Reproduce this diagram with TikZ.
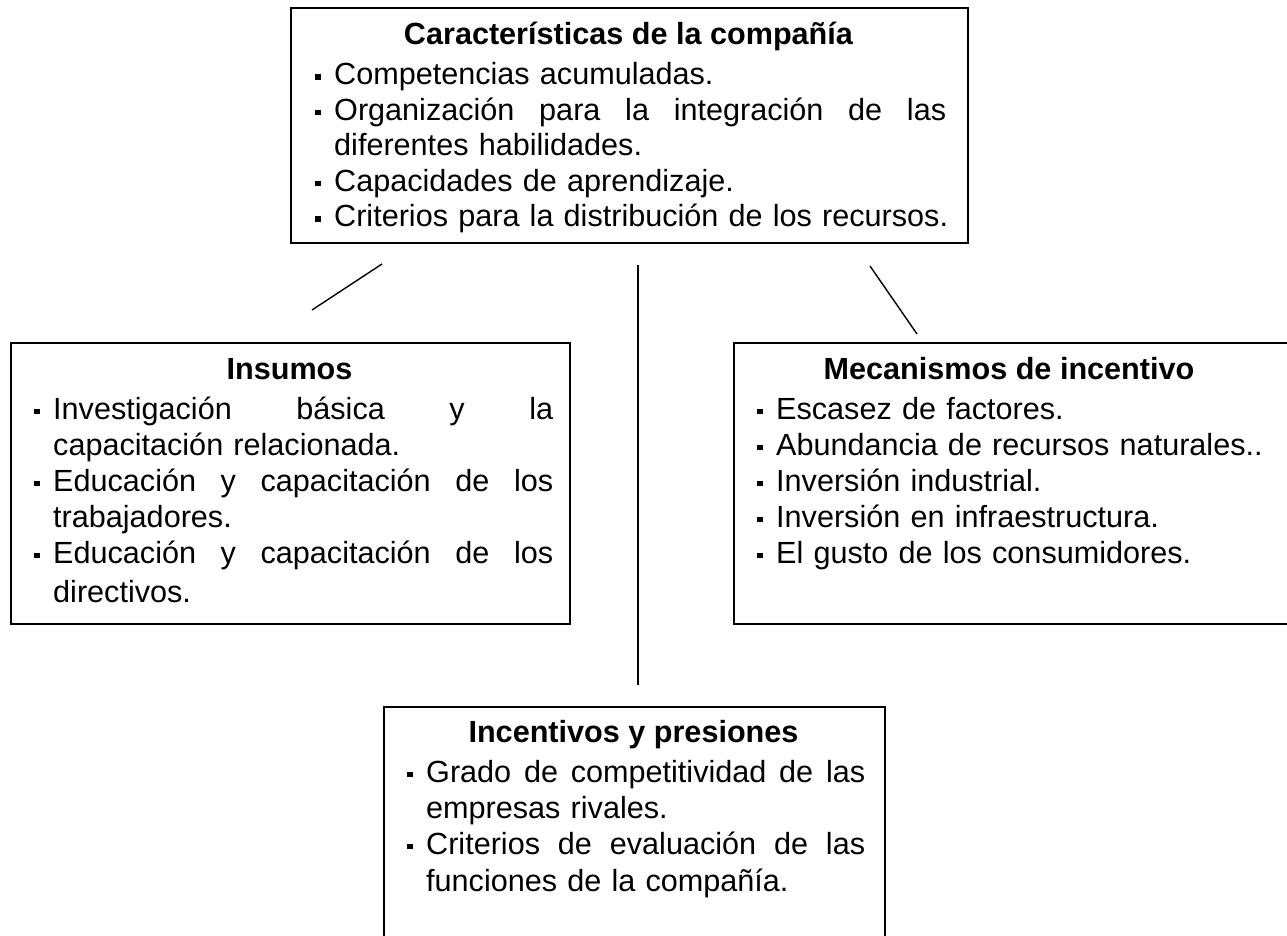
\documentclass[tikz,border=0pt]{standalone}
\usepackage{fontspec}
\setmainfont{Liberation Sans}
\newlength\bulind
\setlength\bulind{19pt}
\newcommand\sqb{\rule[5pt]{5.5pt}{5.5pt}}
\newcommand\itm{\makebox[\bulind][l]{\sqb}}
\newcommand\cnt{\hspace*{\bulind}}
\newcommand\js[2]{\makebox[#1][s]{#2}}
\newcommand\hf{\hfill}
\begin{document}
\begin{tikzpicture}[x=1pt,y=-1pt,
  box/.style={draw=black,line width=1.6pt,inner sep=0pt,anchor=north west},
  txt/.style={anchor=base west,inner sep=0pt,align=left,text width=700pt,font=\fontsize{30.6}{36}\selectfont},
  ttl/.style={anchor=base,inner sep=0pt,font=\fontsize{30.6}{36}\selectfont\bfseries},
  conn/.style={line width=1.4pt}]
\useasboundingbox (0,0) rectangle (1287,936);
% boxes
\node[box,minimum width=677pt,minimum height=235pt] (caj1) at (290,7) {};
\node[box,minimum width=559pt,minimum height=281pt] (caj2) at (10,342) {};
\node[box,minimum width=560pt,minimum height=281pt] (caj3) at (733,342) {};
\node[box,minimum width=501pt,minimum height=245pt] (caj4) at (383,706) {};
% titles
\node[ttl] (t1) at (628.5,45) {Características de la compañía};
\node[ttl] (t2) at (289.5,379) {Insumos};
\node[ttl] (t3) at (1009,379) {Mecanismos de incentivo};
\node[ttl] (t4) at (633.5,742) {Incentivos y presiones};
% items
\node[txt,font=\fontsize{30.6}{35.5}\selectfont] (i1) at (315,85) {\itm Competencias acumuladas.\\
\itm\js{612pt}{Organización\hf{} para\hf{} la\hf{} integración\hf{} de\hf{} las}\\
\cnt diferentes habilidades.\\
\itm Capacidades de aprendizaje.\\
\itm Criterios para la distribución de los recursos.};
\node[txt] (i2) at (34,419) {\itm\js{500pt}{Investigación\hf{} básica\hf{} y\hf{} la}\\
\cnt capacitación relacionada.\\
\itm\js{500pt}{Educación\hf{} y\hf{} capacitación\hf{} de\hf{} los}\\
\cnt trabajadores.\\
\itm\js{500pt}{Educación\hf{} y\hf{} capacitación\hf{} de\hf{} los}\\[3pt]
\cnt directivos.};
\node[txt] (i3) at (757,419) {\itm Escasez de factores.\\
\itm Abundancia de recursos naturales..\\
\itm Inversión industrial.\\
\itm Inversión en infraestructura.\\
\itm El gusto de los consumidores.};
\node[txt] (i4) at (407,782) {\itm\js{439pt}{Grado\hf{} de\hf{} competitividad\hf{} de\hf{} las}\\
\cnt empresas rivales.\\
\itm\js{439pt}{Criterios\hf{} de\hf{} evaluación\hf{} de\hf{} las}\\[1pt]
\cnt funciones de la compañía.};
% connectors
\coordinate (l1a) at (382,264);
\coordinate (l1b) at (312,310);
\coordinate (l2a) at (638,265);
\coordinate (l2b) at (638,685);
\coordinate (l3a) at (870,266);
\coordinate (l3b) at (917,334);
\draw[conn] (l1a) -- (l1b);
\draw[conn] (l2a) -- (l2b);
\draw[conn] (l3a) -- (l3b);
\end{tikzpicture}
\end{document}
